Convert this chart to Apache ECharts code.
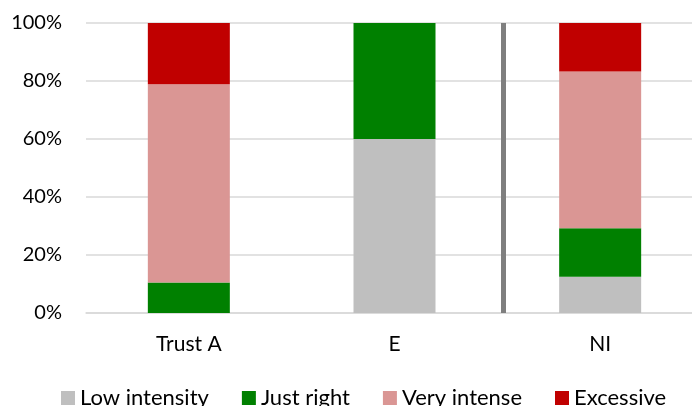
<!DOCTYPE html>
<html>
<head>
<meta charset="utf-8">
<script src="https://cdn.jsdelivr.net/npm/echarts@6/dist/echarts.min.js"></script>
<style>
  html, body { margin: 0; padding: 0; background: #fff; }
  #chart { width: 692px; height: 406px; }
</style>
</head>
<body>
<div id="chart"></div>
<script>
// Share of responses per group, in percent
const categories = ['Trust A', 'E', 'NI'];
const lowIntensity = [0, 60, 12.5];
const justRight = [10.5, 40, 16.7];
const veryIntense = [68.4, 0, 54.1];
const excessive = [21.1, 0, 16.7];
const yTicks = [0, 20, 40, 60, 80, 100];
// Divider between the first two groups and NI, in category units
const dividerAt = [2.03];

const seriesDefs = [
  { name: 'Low intensity', data: lowIntensity, color: '#BFBFBF' },
  { name: 'Just right', data: justRight, color: '#008000' },
  { name: 'Very intense', data: veryIntense, color: '#DA9694' },
  { name: 'Excessive', data: excessive, color: '#C00000' }
];

const font = 'Lato, "Open Sans", sans-serif';
const chart = echarts.init(document.getElementById('chart'), null, { renderer: 'canvas' });

const series = seriesDefs.map(s => ({
  name: s.name,
  type: 'bar',
  stack: 'total',
  barWidth: 82,
  data: s.data,
  itemStyle: { color: s.color },
  emphasis: { disabled: true }
}));

series.push({
  type: 'line',
  xAxisIndex: 1,
  data: [],
  silent: true,
  markLine: {
    symbol: 'none',
    silent: true,
    label: { show: false },
    lineStyle: { color: '#7F7F7F', width: 5, type: 'solid' },
    data: dividerAt.map(v => ({ xAxis: v }))
  }
});

chart.setOption({
  animation: false,
  backgroundColor: '#fff',
  grid: { left: 86, top: 23, width: 617, height: 290, outerBoundsMode: 'none', containLabel: false },
  legend: {
    data: seriesDefs.map(s => s.name),
    left: 61,
    top: 387,
    padding: 0,
    icon: 'rect',
    itemWidth: 14,
    itemHeight: 14,
    itemGap: 33,
    textStyle: { fontFamily: font, fontSize: 22, color: '#000' }
  },
  xAxis: [
    {
      type: 'category',
      data: categories,
      axisTick: { show: false },
      axisLine: { show: true, lineStyle: { color: '#D9D9D9', width: 1.5 } },
      axisLabel: { fontFamily: font, fontSize: 21, color: '#000', margin: 21 }
    },
    {
      type: 'value',
      min: 0,
      max: 3,
      show: false
    }
  ],
  yAxis: {
    type: 'value',
    min: yTicks[0],
    max: yTicks[yTicks.length - 1],
    interval: 20,
    axisLine: { show: false },
    axisTick: { show: false },
    splitLine: { lineStyle: { color: '#D9D9D9', width: 1.5 } },
    axisLabel: {
      fontFamily: font,
      fontSize: 20,
      color: '#000',
      margin: 24,
      formatter: v => v + '%'
    }
  },
  series: series
});
</script>
</body>
</html>
